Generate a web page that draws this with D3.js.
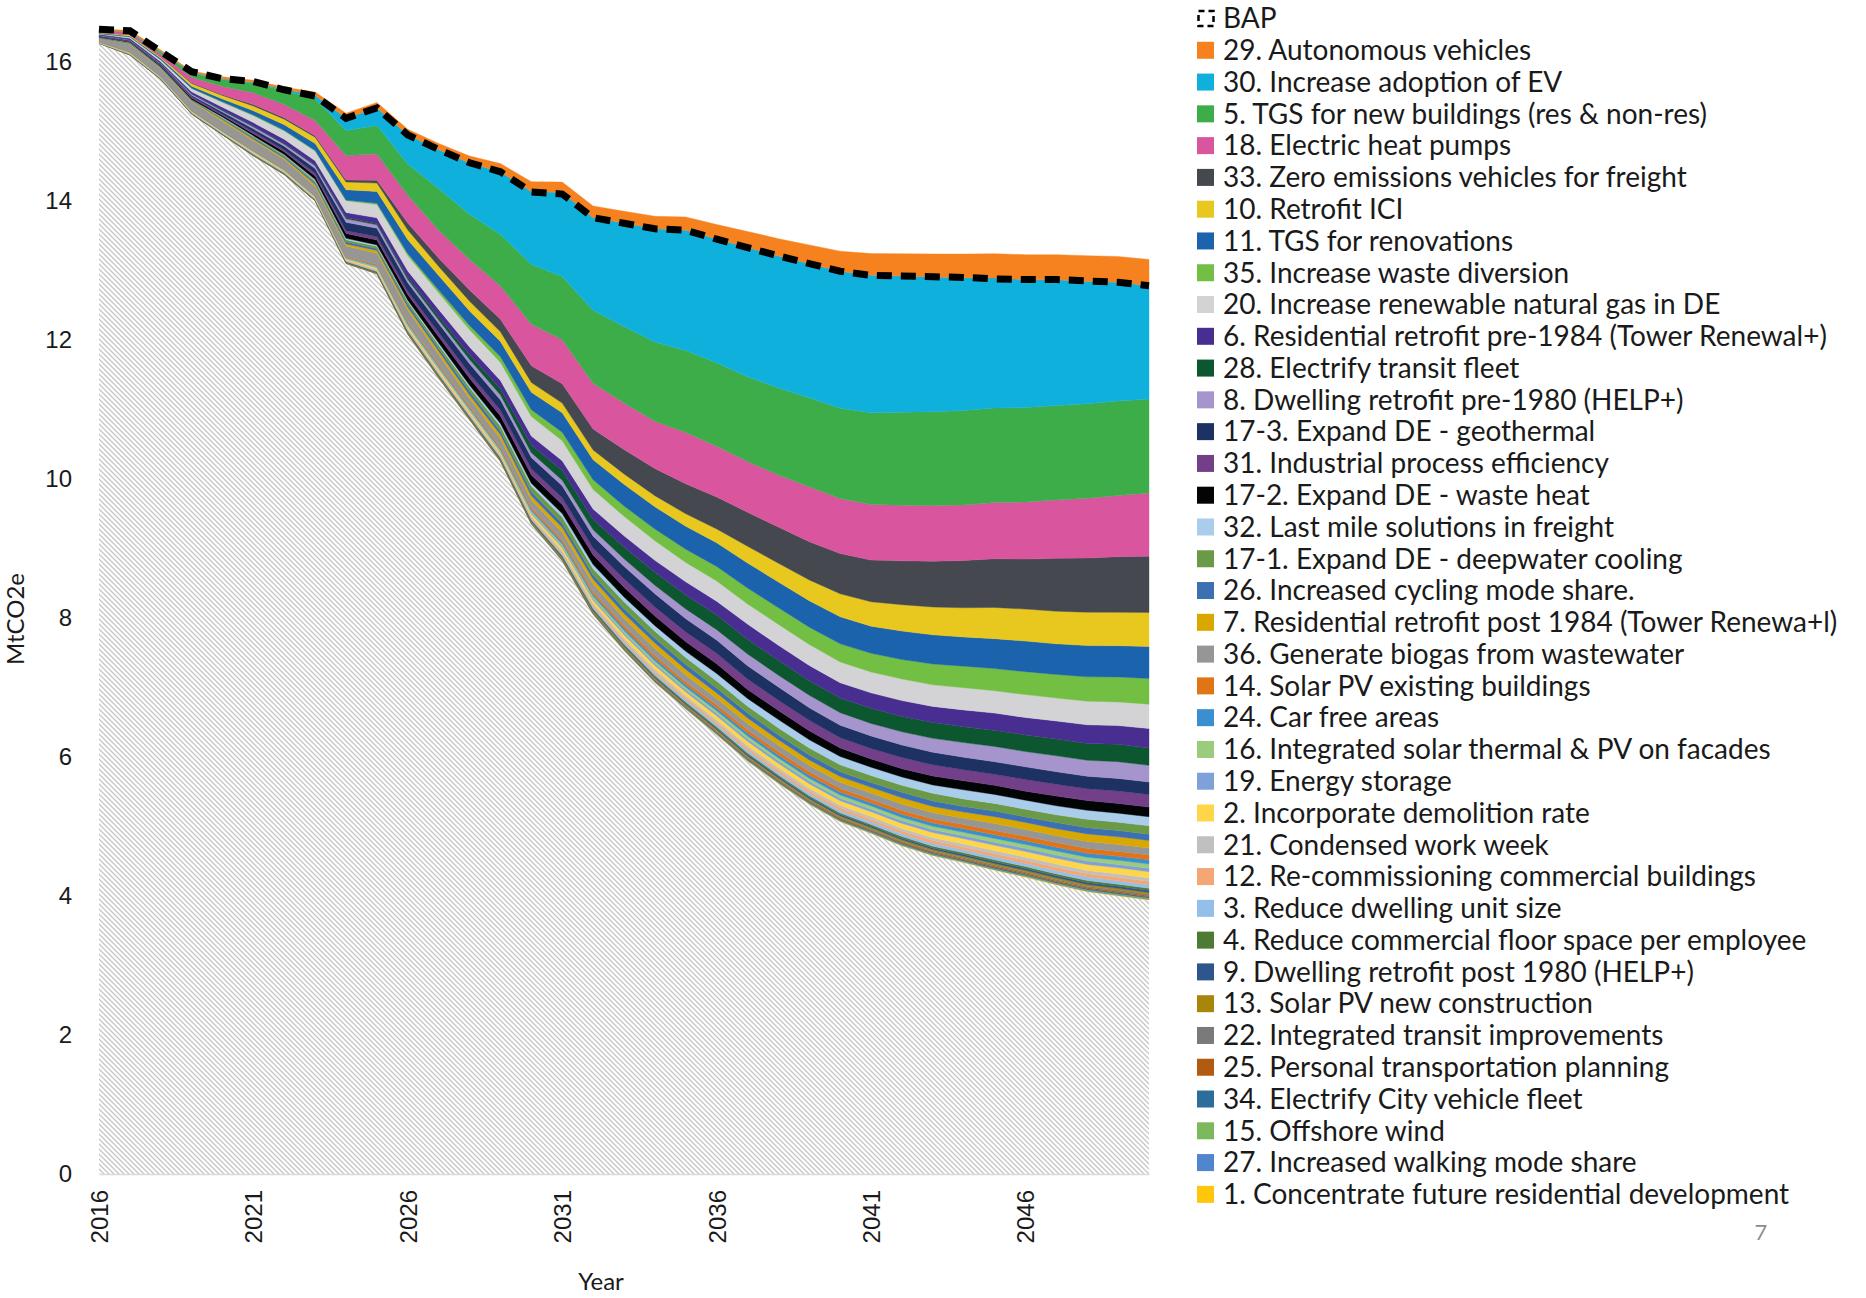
<!DOCTYPE html>
<html>
<head>
<meta charset="utf-8">
<script src="https://cdn.jsdelivr.net/npm/d3@7"></script>
<style>
  body { margin: 0; background: #fff; }
  svg { display: block; font-family: Lato, "Noto Sans", sans-serif; }
  .axis text { font-size: 24px; fill: #1a1a1a; }
  .legend-label { font-size: 28px; fill: #1a1a1a; }
  .axis-title { font-size: 24px; fill: #1a1a1a; }
</style>
</head>
<body>
<svg id="chart" width="1866" height="1298"></svg>
<script>
const svg = d3.select("#chart");

const years = [2016, 2017, 2018, 2019, 2020, 2021, 2022, 2023, 2024, 2025, 2026, 2027,
  2028, 2029, 2030, 2031, 2032, 2033, 2034, 2035, 2036, 2037, 2038, 2039, 2040, 2041,
  2042, 2043, 2044, 2045, 2046, 2047, 2048, 2049, 2050];
const yearTicks = [2016, 2021, 2026, 2031, 2036, 2041, 2046];
const valueTicks = [0, 2, 4, 6, 8, 10, 12, 14, 16];

// remaining emissions (hatched) and the BAP line, MtCO2e
const remaining = [16.27, 16.10, 15.75, 15.25, 14.95, 14.65, 14.38, 14.00, 13.10, 12.95,
  12.08, 11.45, 10.85, 10.25, 9.35, 8.82, 8.05, 7.53, 7.07, 6.69,
  6.32, 5.94, 5.62, 5.32, 5.07, 4.90, 4.72, 4.58, 4.48, 4.37,
  4.27, 4.16, 4.06, 4.00, 3.94];
const bap = [16.47, 16.45, 16.15, 15.86, 15.76, 15.72, 15.60, 15.51, 15.19, 15.34,
  14.95, 14.74, 14.55, 14.42, 14.13, 14.10, 13.76, 13.68, 13.60, 13.58,
  13.45, 13.33, 13.21, 13.10, 12.99, 12.93, 12.92, 12.91, 12.90, 12.88,
  12.87, 12.87, 12.85, 12.83, 12.78];

// action wedges, top of the stack first (legend order)
const s29 = [0.02, 0.02, 0.02, 0.02, 0.03, 0.03, 0.03, 0.05, 0.07, 0.08, 0.08, 0.09, 0.10, 0.12, 0.14, 0.15, 0.17, 0.17, 0.18, 0.19, 0.21, 0.23, 0.25, 0.27, 0.29, 0.31, 0.32, 0.33, 0.34, 0.35, 0.36, 0.36, 0.37, 0.37, 0.38];
const s30 = [0.00, 0.00, 0.01, 0.01, 0.01, 0.01, 0.02, 0.05, 0.18, 0.25, 0.42, 0.56, 0.74, 0.90, 1.05, 1.21, 1.33, 1.49, 1.63, 1.73, 1.78, 1.86, 1.90, 1.93, 1.97, 1.98, 1.96, 1.94, 1.91, 1.87, 1.84, 1.81, 1.76, 1.71, 1.63];
const s5 = [0.00, 0.01, 0.03, 0.06, 0.10, 0.14, 0.20, 0.31, 0.36, 0.41, 0.45, 0.60, 0.65, 0.74, 0.86, 0.91, 1.05, 1.10, 1.14, 1.18, 1.20, 1.22, 1.25, 1.28, 1.30, 1.32, 1.34, 1.35, 1.36, 1.36, 1.36, 1.36, 1.36, 1.36, 1.35];
const s18 = [0.03, 0.03, 0.04, 0.08, 0.12, 0.17, 0.19, 0.22, 0.35, 0.38, 0.40, 0.40, 0.44, 0.48, 0.60, 0.63, 0.66, 0.67, 0.68, 0.74, 0.73, 0.73, 0.75, 0.79, 0.79, 0.80, 0.80, 0.80, 0.80, 0.81, 0.82, 0.84, 0.86, 0.88, 0.91];
const s33 = [0.00, 0.00, 0.00, 0.01, 0.01, 0.02, 0.02, 0.02, 0.03, 0.04, 0.10, 0.12, 0.16, 0.18, 0.24, 0.28, 0.30, 0.35, 0.39, 0.43, 0.46, 0.49, 0.52, 0.55, 0.58, 0.60, 0.63, 0.66, 0.68, 0.70, 0.72, 0.76, 0.78, 0.80, 0.81];
const s10 = [0.01, 0.02, 0.02, 0.04, 0.05, 0.07, 0.08, 0.09, 0.11, 0.12, 0.14, 0.13, 0.14, 0.14, 0.14, 0.14, 0.14, 0.15, 0.16, 0.18, 0.20, 0.24, 0.27, 0.30, 0.33, 0.35, 0.38, 0.40, 0.42, 0.45, 0.46, 0.47, 0.48, 0.48, 0.49];
const s11 = [0.01, 0.01, 0.02, 0.03, 0.04, 0.06, 0.08, 0.10, 0.15, 0.17, 0.20, 0.21, 0.21, 0.22, 0.25, 0.28, 0.29, 0.31, 0.32, 0.33, 0.34, 0.36, 0.37, 0.38, 0.39, 0.39, 0.41, 0.42, 0.42, 0.43, 0.44, 0.44, 0.45, 0.45, 0.46];
const s35 = [0.00, 0.00, 0.00, 0.00, 0.01, 0.01, 0.01, 0.01, 0.01, 0.02, 0.03, 0.04, 0.06, 0.08, 0.10, 0.12, 0.14, 0.15, 0.17, 0.19, 0.21, 0.23, 0.24, 0.25, 0.26, 0.27, 0.28, 0.30, 0.31, 0.32, 0.33, 0.34, 0.35, 0.36, 0.37];
const s20 = [0.01, 0.02, 0.03, 0.05, 0.07, 0.10, 0.12, 0.14, 0.17, 0.19, 0.22, 0.24, 0.25, 0.26, 0.28, 0.29, 0.28, 0.28, 0.28, 0.28, 0.29, 0.29, 0.30, 0.30, 0.30, 0.30, 0.31, 0.31, 0.32, 0.32, 0.33, 0.33, 0.34, 0.34, 0.35];
const s6 = [0.01, 0.02, 0.02, 0.03, 0.04, 0.05, 0.06, 0.06, 0.07, 0.08, 0.09, 0.10, 0.11, 0.12, 0.13, 0.14, 0.15, 0.16, 0.17, 0.19, 0.20, 0.22, 0.22, 0.22, 0.22, 0.22, 0.23, 0.23, 0.24, 0.25, 0.25, 0.26, 0.27, 0.27, 0.28];
const s28 = [0.00, 0.00, 0.00, 0.00, 0.01, 0.01, 0.01, 0.01, 0.02, 0.02, 0.03, 0.05, 0.07, 0.09, 0.11, 0.14, 0.15, 0.17, 0.19, 0.20, 0.21, 0.21, 0.21, 0.21, 0.21, 0.22, 0.22, 0.23, 0.23, 0.23, 0.24, 0.24, 0.24, 0.25, 0.25];
const s8 = [0.01, 0.01, 0.01, 0.02, 0.02, 0.03, 0.03, 0.04, 0.05, 0.05, 0.05, 0.05, 0.06, 0.07, 0.07, 0.08, 0.09, 0.11, 0.12, 0.14, 0.15, 0.17, 0.17, 0.18, 0.18, 0.18, 0.19, 0.20, 0.21, 0.22, 0.22, 0.23, 0.23, 0.24, 0.24];
const s17c = [0.01, 0.01, 0.02, 0.02, 0.03, 0.04, 0.05, 0.07, 0.12, 0.12, 0.12, 0.13, 0.14, 0.15, 0.16, 0.17, 0.17, 0.18, 0.19, 0.19, 0.19, 0.19, 0.19, 0.18, 0.18, 0.18, 0.18, 0.18, 0.18, 0.18, 0.18, 0.18, 0.18, 0.18, 0.18];
const s31 = [0.01, 0.01, 0.01, 0.02, 0.02, 0.03, 0.03, 0.04, 0.04, 0.05, 0.05, 0.06, 0.07, 0.08, 0.09, 0.10, 0.10, 0.12, 0.13, 0.14, 0.15, 0.15, 0.15, 0.15, 0.15, 0.15, 0.16, 0.16, 0.16, 0.16, 0.17, 0.17, 0.17, 0.18, 0.18];
const s17b = [0.00, 0.01, 0.01, 0.02, 0.02, 0.03, 0.04, 0.05, 0.07, 0.07, 0.08, 0.09, 0.10, 0.11, 0.12, 0.13, 0.14, 0.14, 0.14, 0.14, 0.14, 0.13, 0.13, 0.13, 0.12, 0.12, 0.12, 0.13, 0.13, 0.13, 0.13, 0.14, 0.14, 0.14, 0.14];
const s32 = [0.00, 0.00, 0.00, 0.00, 0.01, 0.01, 0.01, 0.02, 0.02, 0.02, 0.02, 0.03, 0.03, 0.04, 0.04, 0.05, 0.06, 0.07, 0.08, 0.09, 0.11, 0.11, 0.12, 0.12, 0.12, 0.12, 0.12, 0.12, 0.13, 0.13, 0.13, 0.13, 0.13, 0.13, 0.13];
const s17a = [0.01, 0.01, 0.01, 0.01, 0.02, 0.02, 0.02, 0.03, 0.03, 0.03, 0.04, 0.05, 0.06, 0.07, 0.08, 0.09, 0.09, 0.10, 0.10, 0.10, 0.10, 0.10, 0.10, 0.10, 0.10, 0.10, 0.10, 0.11, 0.11, 0.11, 0.11, 0.11, 0.12, 0.12, 0.12];
const s26 = [0.00, 0.01, 0.01, 0.01, 0.01, 0.02, 0.02, 0.02, 0.03, 0.03, 0.04, 0.04, 0.05, 0.05, 0.06, 0.06, 0.06, 0.07, 0.07, 0.07, 0.07, 0.07, 0.07, 0.07, 0.07, 0.07, 0.08, 0.08, 0.08, 0.08, 0.08, 0.09, 0.09, 0.09, 0.09];
const s7 = [0.00, 0.01, 0.01, 0.01, 0.02, 0.02, 0.02, 0.03, 0.03, 0.04, 0.04, 0.05, 0.05, 0.06, 0.06, 0.07, 0.07, 0.07, 0.08, 0.08, 0.08, 0.08, 0.08, 0.08, 0.08, 0.08, 0.09, 0.09, 0.09, 0.10, 0.10, 0.10, 0.11, 0.11, 0.11];
const s36 = [0.05, 0.10, 0.10, 0.12, 0.13, 0.13, 0.13, 0.12, 0.15, 0.16, 0.17, 0.14, 0.11, 0.12, 0.11, 0.11, 0.11, 0.10, 0.10, 0.10, 0.09, 0.09, 0.09, 0.09, 0.09, 0.09, 0.09, 0.09, 0.09, 0.10, 0.10, 0.10, 0.10, 0.10, 0.10];
const s14 = [0.003, 0.005, 0.005, 0.006, 0.008, 0.010, 0.010, 0.010, 0.011, 0.015, 0.019, 0.022, 0.022, 0.023, 0.026, 0.032, 0.036, 0.039, 0.042, 0.042, 0.046, 0.048, 0.050, 0.051, 0.052, 0.053, 0.055, 0.057, 0.059, 0.061, 0.064, 0.066, 0.067, 0.069, 0.070];
const s24 = [0.003, 0.005, 0.005, 0.006, 0.006, 0.008, 0.008, 0.008, 0.009, 0.013, 0.017, 0.018, 0.018, 0.019, 0.022, 0.028, 0.030, 0.033, 0.036, 0.036, 0.040, 0.042, 0.042, 0.043, 0.044, 0.045, 0.047, 0.049, 0.051, 0.053, 0.054, 0.056, 0.057, 0.059, 0.060];
const s16 = [0.003, 0.005, 0.005, 0.006, 0.006, 0.008, 0.008, 0.008, 0.009, 0.013, 0.017, 0.018, 0.018, 0.019, 0.022, 0.028, 0.030, 0.033, 0.036, 0.036, 0.040, 0.042, 0.042, 0.043, 0.044, 0.045, 0.047, 0.049, 0.051, 0.053, 0.054, 0.056, 0.057, 0.059, 0.060];
const s19 = [0.002, 0.004, 0.004, 0.005, 0.005, 0.007, 0.007, 0.007, 0.008, 0.011, 0.014, 0.015, 0.015, 0.016, 0.018, 0.023, 0.025, 0.028, 0.030, 0.030, 0.033, 0.035, 0.035, 0.036, 0.037, 0.038, 0.039, 0.041, 0.042, 0.044, 0.045, 0.047, 0.048, 0.049, 0.050];
const s2 = [0.004, 0.007, 0.007, 0.008, 0.010, 0.012, 0.012, 0.012, 0.014, 0.019, 0.025, 0.028, 0.028, 0.029, 0.033, 0.042, 0.046, 0.050, 0.054, 0.054, 0.060, 0.062, 0.064, 0.065, 0.066, 0.068, 0.071, 0.073, 0.076, 0.079, 0.082, 0.084, 0.086, 0.089, 0.090];
const s21 = [0.002, 0.004, 0.004, 0.005, 0.005, 0.007, 0.007, 0.007, 0.008, 0.011, 0.014, 0.015, 0.015, 0.016, 0.018, 0.023, 0.025, 0.028, 0.030, 0.030, 0.033, 0.035, 0.035, 0.036, 0.037, 0.038, 0.039, 0.041, 0.042, 0.044, 0.045, 0.047, 0.048, 0.049, 0.050];
const s12 = [0.003, 0.005, 0.005, 0.005, 0.006, 0.007, 0.007, 0.007, 0.008, 0.011, 0.014, 0.015, 0.015, 0.016, 0.018, 0.023, 0.025, 0.028, 0.030, 0.030, 0.033, 0.035, 0.035, 0.036, 0.037, 0.038, 0.039, 0.041, 0.042, 0.044, 0.045, 0.047, 0.048, 0.049, 0.050];
const s3 = [0.002, 0.004, 0.004, 0.005, 0.005, 0.007, 0.007, 0.007, 0.008, 0.011, 0.014, 0.015, 0.015, 0.016, 0.018, 0.023, 0.025, 0.028, 0.030, 0.030, 0.033, 0.035, 0.035, 0.036, 0.037, 0.038, 0.039, 0.041, 0.042, 0.044, 0.045, 0.047, 0.048, 0.049, 0.050];
const s4 = [0.001, 0.002, 0.002, 0.003, 0.003, 0.004, 0.004, 0.004, 0.005, 0.006, 0.008, 0.009, 0.009, 0.010, 0.011, 0.014, 0.015, 0.017, 0.018, 0.018, 0.020, 0.021, 0.021, 0.022, 0.022, 0.023, 0.024, 0.024, 0.025, 0.026, 0.027, 0.028, 0.029, 0.030, 0.030];
const s9 = [0.001, 0.002, 0.002, 0.003, 0.003, 0.004, 0.004, 0.004, 0.005, 0.006, 0.008, 0.009, 0.009, 0.010, 0.011, 0.014, 0.015, 0.017, 0.018, 0.018, 0.020, 0.021, 0.021, 0.022, 0.022, 0.023, 0.024, 0.024, 0.025, 0.026, 0.027, 0.028, 0.029, 0.030, 0.030];
const s13 = [0.001, 0.002, 0.002, 0.002, 0.003, 0.003, 0.003, 0.003, 0.004, 0.005, 0.007, 0.008, 0.008, 0.008, 0.009, 0.012, 0.013, 0.014, 0.015, 0.015, 0.017, 0.017, 0.018, 0.018, 0.018, 0.019, 0.020, 0.020, 0.021, 0.022, 0.023, 0.023, 0.024, 0.025, 0.025];
const s22 = [0.001, 0.002, 0.002, 0.002, 0.002, 0.003, 0.003, 0.003, 0.003, 0.004, 0.006, 0.006, 0.006, 0.006, 0.007, 0.009, 0.010, 0.011, 0.012, 0.012, 0.013, 0.014, 0.014, 0.014, 0.015, 0.015, 0.016, 0.016, 0.017, 0.018, 0.018, 0.019, 0.019, 0.020, 0.020];
const s25 = [0.001, 0.002, 0.002, 0.002, 0.002, 0.003, 0.003, 0.003, 0.003, 0.004, 0.006, 0.006, 0.006, 0.006, 0.007, 0.009, 0.010, 0.011, 0.012, 0.012, 0.013, 0.014, 0.014, 0.014, 0.015, 0.015, 0.016, 0.016, 0.017, 0.018, 0.018, 0.019, 0.019, 0.020, 0.020];
const s34 = [0.001, 0.001, 0.001, 0.001, 0.002, 0.002, 0.002, 0.002, 0.002, 0.003, 0.004, 0.005, 0.005, 0.005, 0.006, 0.007, 0.008, 0.008, 0.009, 0.009, 0.010, 0.010, 0.011, 0.011, 0.011, 0.011, 0.012, 0.012, 0.013, 0.013, 0.014, 0.014, 0.014, 0.015, 0.015];
const s15 = [0.000, 0.001, 0.001, 0.001, 0.001, 0.001, 0.001, 0.001, 0.002, 0.002, 0.003, 0.003, 0.003, 0.003, 0.004, 0.005, 0.005, 0.006, 0.006, 0.006, 0.007, 0.007, 0.007, 0.007, 0.007, 0.008, 0.008, 0.008, 0.008, 0.009, 0.009, 0.009, 0.010, 0.010, 0.010];
const s27 = [0.000, 0.001, 0.001, 0.001, 0.001, 0.001, 0.001, 0.001, 0.002, 0.002, 0.003, 0.003, 0.003, 0.003, 0.004, 0.005, 0.005, 0.006, 0.006, 0.006, 0.007, 0.007, 0.007, 0.007, 0.007, 0.008, 0.008, 0.008, 0.008, 0.009, 0.009, 0.009, 0.010, 0.010, 0.010];
const s1 = [0.000, 0.001, 0.001, 0.001, 0.001, 0.001, 0.001, 0.001, 0.002, 0.002, 0.003, 0.003, 0.003, 0.003, 0.004, 0.005, 0.005, 0.006, 0.006, 0.006, 0.007, 0.007, 0.007, 0.007, 0.007, 0.008, 0.008, 0.008, 0.008, 0.009, 0.009, 0.009, 0.010, 0.010, 0.010];

const seriesNames = [
  "29. Autonomous vehicles",
  "30. Increase adoption of EV",
  "5. TGS for new buildings (res & non-res)",
  "18. Electric heat pumps",
  "33. Zero emissions vehicles for freight",
  "10. Retrofit ICI",
  "11. TGS for renovations",
  "35. Increase waste diversion",
  "20. Increase renewable natural gas in DE",
  "6. Residential retrofit pre-1984 (Tower Renewal+)",
  "28. Electrify transit fleet",
  "8. Dwelling retrofit pre-1980 (HELP+)",
  "17-3. Expand DE - geothermal",
  "31. Industrial process efficiency",
  "17-2. Expand DE - waste heat",
  "32. Last mile solutions in freight",
  "17-1. Expand DE - deepwater cooling",
  "26. Increased cycling mode share.",
  "7. Residential retrofit post 1984 (Tower Renewa+l)",
  "36. Generate biogas from wastewater",
  "14. Solar PV existing buildings",
  "24. Car free areas",
  "16. Integrated solar thermal & PV on facades",
  "19. Energy storage",
  "2. Incorporate demolition rate",
  "21. Condensed work week",
  "12. Re-commissioning commercial buildings",
  "3. Reduce dwelling unit size",
  "4. Reduce commercial floor space per employee",
  "9. Dwelling retrofit post 1980 (HELP+)",
  "13. Solar PV new construction",
  "22. Integrated transit improvements",
  "25. Personal transportation planning",
  "34. Electrify City vehicle fleet",
  "15. Offshore wind",
  "27. Increased walking mode share",
  "1. Concentrate future residential development",
];

const seriesColors = [
  "#f5821f", "#0fb0dc", "#3dad4a", "#d9569e", "#45484f", "#e8c81e", "#1b63ad", "#72bf44",
  "#d3d3d5", "#482e91", "#0c5630", "#a595cc", "#1e3163", "#733f88", "#030405", "#a9cdeb",
  "#6a9a48", "#3d70b2", "#d9a800", "#969696", "#e07416", "#3a8fd0", "#9bcb7d", "#7ea1d9",
  "#ffd54a", "#c0c0c0", "#f4a674", "#93c0e8", "#4e7a34", "#2d558e", "#a8860b", "#7a7a7a",
  "#b35a12", "#2c6e9b", "#7cb85c", "#4f86cf", "#ffc60b",
];

const seriesValues = [s29, s30, s5, s18, s33, s10, s11, s35, s20, s6, s28, s8, s17c, s31,
  s17b, s32, s17a, s26, s7, s36, s14, s24, s16, s19, s2, s21, s12, s3, s4, s9, s13, s22,
  s25, s34, s15, s27, s1];

const plot = { left: 99, right: 1149, top: 62, bottom: 1174 };

const x = d3.scaleLinear().domain([2016, 2050]).range([plot.left, plot.right]);
const y = d3.scaleLinear().domain([0, 16]).range([plot.bottom, plot.top]);

// table for d3.stack: remaining emissions at the bottom, then the wedges bottom-up
const keys = ["remaining"].concat(seriesNames.slice().reverse());
const rows = years.map((yr, i) => {
  const row = { year: yr, remaining: remaining[i] };
  seriesNames.forEach((name, k) => { row[name] = seriesValues[k][i]; });
  return row;
});
const colorOf = new Map(seriesNames.map((n, k) => [n, seriesColors[k]]));

const stacked = d3.stack().keys(keys)(rows);

const defs = svg.append("defs");
const hatch = defs.append("pattern")
  .attr("id", "hatch")
  .attr("patternUnits", "userSpaceOnUse")
  .attr("width", 5)
  .attr("height", 5);
hatch.append("rect").attr("width", 5).attr("height", 5).attr("fill", "#fff");
hatch.append("path")
  .attr("d", "M-1,-1L6,6M-1,4L1,6M4,-1L6,1")
  .attr("stroke", "#c6c6c6")
  .attr("stroke-width", 1.25);

const area = d3.area()
  .x((d) => x(d.data.year))
  .y0((d) => y(d[0]))
  .y1((d) => y(d[1]));

svg.append("g")
  .selectAll("path")
  .data(stacked)
  .join("path")
  .attr("d", area)
  .attr("fill", (d) => (d.key === "remaining" ? "url(#hatch)" : colorOf.get(d.key)))
  .attr("stroke", (d) => (d.key === "remaining" ? "none" : colorOf.get(d.key)))
  .attr("stroke-width", 0.4);

// BAP dashed line
const bapLine = d3.line().x((d, i) => x(years[i])).y((d) => y(d));
svg.append("path")
  .attr("d", bapLine(bap))
  .attr("fill", "none")
  .attr("stroke", "#000")
  .attr("stroke-width", 7)
  .attr("stroke-dasharray", "15,9");

// axes
svg.append("g")
  .attr("class", "axis")
  .attr("transform", `translate(${plot.left},0)`)
  .call(d3.axisLeft(y).tickValues(valueTicks).tickSize(0).tickPadding(27))
  .call((g) => g.select(".domain").remove());

svg.append("g")
  .attr("class", "axis")
  .attr("transform", `translate(0,${plot.bottom})`)
  .call(d3.axisBottom(x).tickValues(yearTicks).tickSize(0).tickFormat(d3.format("d")))
  .call((g) => g.select(".domain").attr("stroke", "#d9d9d9").attr("stroke-width", 1.5))
  .call((g) => g.selectAll("text")
    .attr("transform", "rotate(-90)")
    .attr("x", -16)
    .attr("y", 0)
    .attr("dy", "0.35em")
    .attr("text-anchor", "end"));

svg.append("text")
  .attr("class", "axis-title")
  .attr("transform", "translate(24,619) rotate(-90)")
  .attr("text-anchor", "middle")
  .text("MtCO2e");

svg.append("text")
  .attr("class", "axis-title")
  .attr("x", 601)
  .attr("y", 1290)
  .attr("text-anchor", "middle")
  .text("Year");

// legend
const legend = svg.append("g").attr("transform", "translate(1197,0)");
const rowH = 31.78;
const rowY = (i) => 18.5 + i * rowH;

legend.append("rect")
  .attr("x", 1.5)
  .attr("y", rowY(0) - 7.5)
  .attr("width", 15)
  .attr("height", 15)
  .attr("fill", "none")
  .attr("stroke", "#000")
  .attr("stroke-width", 2.5)
  .attr("stroke-dasharray", "6,4");
legend.append("text")
  .attr("class", "legend-label")
  .attr("x", 26)
  .attr("y", rowY(0))
  .attr("dy", "0.35em")
  .text("BAP");

const items = legend.selectAll("g.item")
  .data(seriesNames)
  .join("g")
  .attr("class", "item")
  .attr("transform", (d, i) => `translate(0,${rowY(i + 1)})`);
items.append("rect")
  .attr("x", 0)
  .attr("y", -8.5)
  .attr("width", 17)
  .attr("height", 17)
  .attr("fill", (d, i) => seriesColors[i]);
items.append("text")
  .attr("class", "legend-label")
  .attr("x", 26)
  .attr("dy", "0.35em")
  .text((d) => d);

svg.append("text")
  .attr("x", 1761)
  .attr("y", 1232)
  .attr("dy", "0.35em")
  .attr("text-anchor", "middle")
  .attr("font-size", 22)
  .attr("fill", "#8c8c8c")
  .text("7");
</script>
</body>
</html>
